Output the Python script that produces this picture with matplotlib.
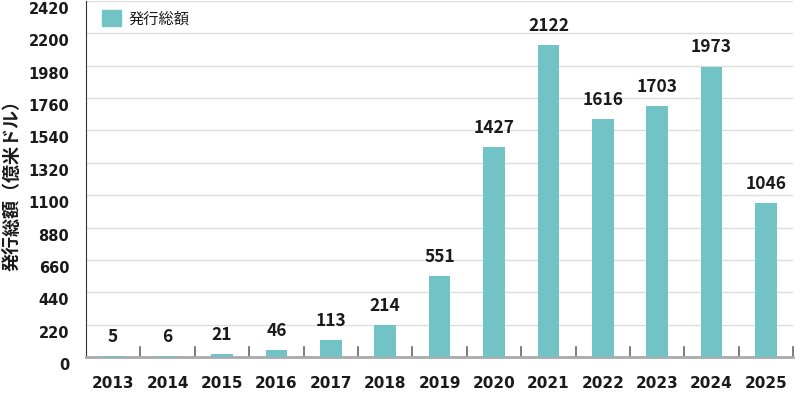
import matplotlib
matplotlib.use("Agg")
import matplotlib.pyplot as plt
from matplotlib.patches import Patch
from matplotlib.transforms import ScaledTranslation, blended_transform_factory

plt.rcParams['font.family'] = ['Noto Sans CJK JP', 'DejaVu Sans']

years = ["2013", "2014", "2015", "2016", "2017", "2018", "2019",
         "2020", "2021", "2022", "2023", "2024", "2025"]
values = [5, 6, 21, 46, 113, 214, 551, 1427, 2122, 1616, 1703, 1973, 1046]
yticks = list(range(0, 2421, 220))
series_name = "発行総額"
ylabel = "発行総額（億米ドル）"

color = "#72C3C6"
txt = "#1a1a1a"

fig = plt.figure(figsize=(8, 3.94), dpi=100)
ax = fig.add_axes([0.1075, 0.094, 0.884, 0.9035])

x = list(range(len(years)))
ax.bar(x, values, width=0.4, color=color, zorder=3)
for xi, v in zip(x, values):
    ax.text(xi, v + 70, str(v), ha='center', va='bottom', fontsize=12.5,
            fontweight='bold', color=txt, zorder=4)

ax.set_xlim(-0.5, len(years) - 0.5)
ax.set_ylim(0, 2420)
ax.set_yticks(yticks)
ax.set_yticklabels([str(t) for t in yticks], fontsize=10.5, fontweight='bold',
                   color=txt, family='DejaVu Sans')
ax.set_xticks(x)
ax.set_xticklabels(years, fontsize=11, fontweight='bold', color=txt, family='DejaVu Sans')
ax.tick_params(axis='both', length=0)
ax.tick_params(axis='x', pad=14)
ax.tick_params(axis='y', pad=12)
off = ScaledTranslation(0, -7 / 100, fig.dpi_scale_trans)
for lab in ax.get_yticklabels():
    lab.set_transform(lab.get_transform() + off)
ax.grid(axis='y', color='#dddddd', linewidth=1, zorder=0)

# category boundary ticks pointing up from baseline
tr = blended_transform_factory(ax.transData, ax.transAxes)
for b in [i + 0.5 for i in range(len(years))]:
    ax.plot([b, b], [0, 0.027], color='#666666', linewidth=1.2, zorder=2,
            clip_on=False, transform=tr)

for s in ['top', 'right']:
    ax.spines[s].set_visible(False)
ax.spines['left'].set_color('#333333')
ax.spines['bottom'].set_color('#aaaaaa')
ax.spines['bottom'].set_linewidth(2)

ax.set_ylabel(ylabel, fontsize=13, fontweight='bold', color=txt)
ax.yaxis.set_label_coords(-0.0905, 0.493)

leg = ax.legend(handles=[Patch(color=color, label=series_name)], loc='upper left',
                frameon=False, fontsize=11, handlelength=1.3, handleheight=1.25,
                handletextpad=0.45, borderaxespad=0.0, borderpad=0.0,
                bbox_to_anchor=(0.022, 0.974))
for t in leg.get_texts():
    t.set_color(txt)
ax.set_axisbelow(True)

fig.savefig("out.png", dpi=100)
